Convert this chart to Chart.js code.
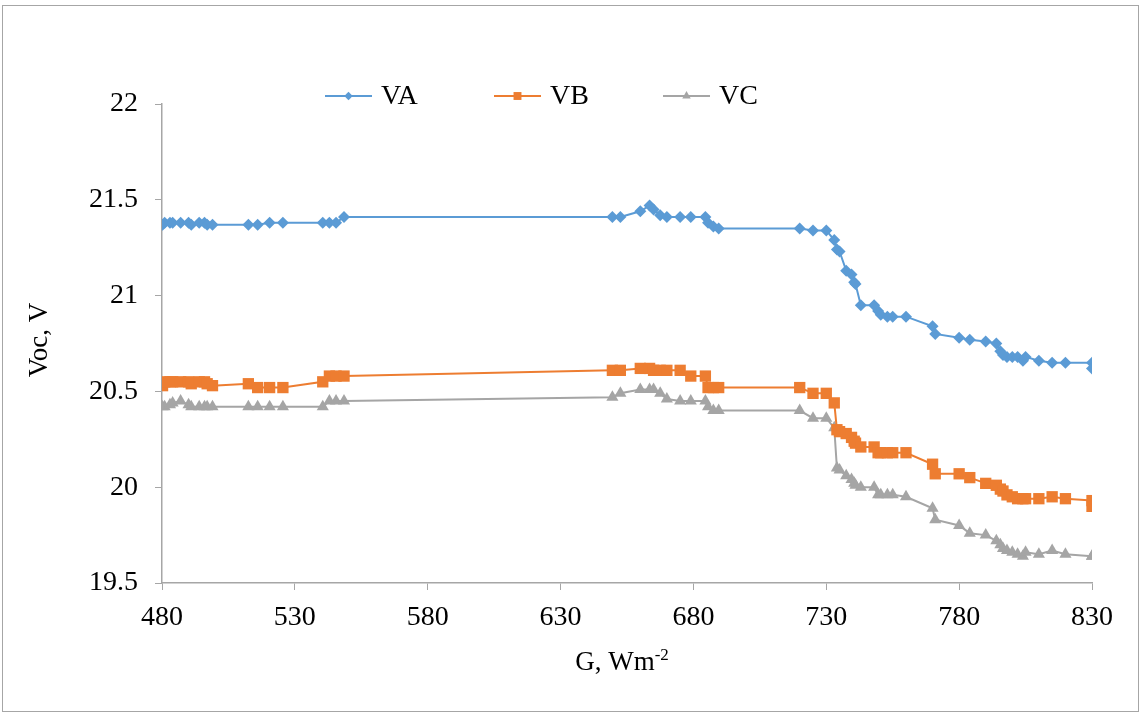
<!DOCTYPE html>
<html>
<head>
<meta charset="utf-8">
<title>Voc vs G</title>
<script src="https://cdn.jsdelivr.net/npm/chart.js@4.4.1/dist/chart.umd.min.js"></script>
<style>
  html, body { margin: 0; padding: 0; background: #ffffff; }
  #frame {
    position: absolute; left: 2px; top: 5px;
    width: 1135px; height: 705px;
    border: 1px solid #a6a6a6; background: #ffffff;
  }
  canvas { display: block; }
</style>
</head>
<body>
<div id="frame"><canvas id="c" width="1135" height="705"></canvas></div>
<script>
// Irradiance G (W/m^2) for each measurement
const G = [
  480.2, 481, 483, 484, 487, 490, 491, 494, 496, 497, 499,
  512.5, 516, 520.5, 525.5,
  540.5, 543, 545.5, 548.5,
  649.5, 652.5, 660, 663.5, 665, 667.5, 670, 675, 679, 684.5, 685.5, 687.5, 689.5,
  720, 725, 730, 733, 734, 735, 737.5, 739.5, 740.5, 741, 743, 748, 749.5, 750.5, 753, 755, 760,
  770, 771, 780, 784, 790, 794, 795.5, 796.5, 798, 800, 802, 804, 805, 810, 815, 820, 830, 830
];

// Open-circuit voltage of each module (V)
const VA = [
  21.37, 21.38, 21.38, 21.38, 21.38, 21.38, 21.37, 21.38, 21.38, 21.37, 21.37,
  21.37, 21.37, 21.38, 21.38,
  21.38, 21.38, 21.38, 21.41,
  21.41, 21.41, 21.44, 21.47, 21.45, 21.42, 21.41, 21.41, 21.41, 21.41, 21.38, 21.36, 21.35,
  21.35, 21.34, 21.34, 21.29, 21.24, 21.23, 21.13, 21.11, 21.07, 21.06, 20.95, 20.95, 20.92, 20.90, 20.89, 20.89, 20.89,
  20.84, 20.80, 20.78, 20.77, 20.76, 20.75, 20.71, 20.69, 20.68, 20.68, 20.68, 20.66, 20.68, 20.66, 20.65, 20.65, 20.65, 20.62
];
const VB = [
  20.53, 20.55, 20.55, 20.55, 20.55, 20.55, 20.54, 20.55, 20.55, 20.54, 20.53,
  20.54, 20.52, 20.52, 20.52,
  20.55, 20.58, 20.58, 20.58,
  20.61, 20.61, 20.62, 20.62, 20.61, 20.61, 20.61, 20.61, 20.58, 20.58, 20.52, 20.52, 20.52,
  20.52, 20.49, 20.49, 20.44, 20.30, 20.29, 20.28, 20.26, 20.24, 20.23, 20.21, 20.21, 20.18, 20.18, 20.18, 20.18, 20.18,
  20.12, 20.07, 20.07, 20.05, 20.02, 20.01, 19.99, 19.98, 19.96, 19.95, 19.94, 19.94, 19.94, 19.94, 19.95, 19.94, 19.93, 19.90
];
const VC = [
  20.42, 20.42, 20.43, 20.44, 20.45, 20.43, 20.42, 20.42, 20.42, 20.42, 20.42,
  20.42, 20.42, 20.42, 20.42,
  20.42, 20.45, 20.45, 20.45,
  20.47, 20.49, 20.51, 20.51, 20.51, 20.49, 20.46, 20.45, 20.45, 20.45, 20.42, 20.40, 20.40,
  20.40, 20.36, 20.36, 20.31, 20.10, 20.09, 20.06, 20.04, 20.02, 20.01, 20.00, 20.00, 19.96, 19.96, 19.96, 19.96, 19.95,
  19.89, 19.83, 19.80, 19.76, 19.75, 19.72, 19.70, 19.68, 19.67, 19.66, 19.65, 19.64, 19.66, 19.65, 19.67, 19.65, 19.64, 19.64
];

// Axis tick values
const xTicks = [480, 530, 580, 630, 680, 730, 780, 830];
const yTicks = [19.5, 20, 20.5, 21, 21.5, 22];

const seriesNames = ['VA', 'VB', 'VC'];
const seriesColors = ['#5B9BD5', '#ED7D31', '#A5A5A5'];
const seriesMarkers = ['rectRot', 'rect', 'triangle'];
const markerRadius = [6, 8, 7];

const FONT = '"Liberation Serif", "Times New Roman", serif';
const AXIS_GREY = '#a6a6a6';

function toPoints(ys) {
  return G.map((g, i) => ({ x: g, y: ys[i] }));
}

const datasets = [VA, VB, VC].map((ys, k) => ({
  label: seriesNames[k],
  data: toPoints(ys),
  showLine: true,
  borderColor: seriesColors[k],
  backgroundColor: seriesColors[k],
  borderWidth: 2,
  pointStyle: seriesMarkers[k],
  pointRadius: markerRadius[k],
  pointBorderWidth: 0,
  pointBackgroundColor: seriesColors[k],
  pointBorderColor: seriesColors[k],
  tension: 0
}));

// Legend: short line with a marker in its middle, followed by the name
const legendPlugin = {
  id: 'lineMarkerLegend',
  afterDraw(chart) {
    const ctx = chart.ctx;
    const items = [
      { x0: 322, name: seriesNames[0] },
      { x0: 491, name: seriesNames[1] },
      { x0: 660, name: seriesNames[2] }
    ];
    const y = 90;
    ctx.save();
    items.forEach((it, k) => {
      ctx.strokeStyle = seriesColors[k];
      ctx.lineWidth = 2;
      ctx.beginPath();
      ctx.moveTo(it.x0, y);
      ctx.lineTo(it.x0 + 47, y);
      ctx.stroke();
      ctx.fillStyle = seriesColors[k];
      Chart.helpers.drawPoint(ctx, {
        pointStyle: seriesMarkers[k],
        radius: markerRadius[k] * 0.7,
        rotation: 0,
        borderWidth: 0
      }, it.x0 + 23.5, y);
      ctx.fillStyle = '#000000';
      ctx.font = '28px ' + FONT;
      ctx.textAlign = 'left';
      ctx.textBaseline = 'middle';
      ctx.fillText(it.name, it.x0 + 56, y + 1);
    });
    ctx.restore();
  }
};

// Axis titles, with a superscript on the irradiance unit
const titlePlugin = {
  id: 'axisTitles',
  afterDraw(chart) {
    const ctx = chart.ctx;
    ctx.save();
    ctx.fillStyle = '#000000';
    ctx.textBaseline = 'alphabetic';
    // x title
    const main = 'G, Wm';
    const sup = '-2';
    ctx.font = '27px ' + FONT;
    const wMain = ctx.measureText(main).width;
    ctx.font = '17px ' + FONT;
    const wSup = ctx.measureText(sup).width;
    const cx = 619, base = 664;
    const startX = cx - (wMain + wSup) / 2;
    ctx.font = '27px ' + FONT;
    ctx.textAlign = 'left';
    ctx.fillText(main, startX, base);
    ctx.font = '17px ' + FONT;
    ctx.fillText(sup, startX + wMain, base - 10);
    // y title
    ctx.translate(37, 334);
    ctx.rotate(-Math.PI / 2);
    ctx.font = '27px ' + FONT;
    ctx.textAlign = 'center';
    ctx.textBaseline = 'middle';
    ctx.fillText('Voc, V', 0, 0);
    ctx.restore();
  }
};

new Chart(document.getElementById('c'), {
  type: 'scatter',
  data: { datasets },
  options: {
    responsive: false,
    animation: false,
    events: [],
    layout: { padding: { left: 0, right: 46, top: 98, bottom: 0 } },
    plugins: {
      legend: { display: false },
      tooltip: { enabled: false }
    },
    scales: {
      x: {
        type: 'linear',
        min: xTicks[0],
        max: xTicks[xTicks.length - 1],
        afterBuildTicks(axis) { axis.ticks = xTicks.map(v => ({ value: v })); },
        afterFit(axis) { axis.height = 128; },
        grid: {
          drawOnChartArea: false,
          drawTicks: true,
          tickLength: 7,
          color: AXIS_GREY,
          lineWidth: 1
        },
        border: { display: true, color: AXIS_GREY, width: 1.5 },
        ticks: {
          color: '#000000',
          font: { family: FONT, size: 28 },
          padding: 11,
          maxRotation: 0,
          autoSkip: false,
          callback: (v) => String(v)
        }
      },
      y: {
        type: 'linear',
        min: yTicks[0],
        max: yTicks[yTicks.length - 1],
        afterBuildTicks(axis) { axis.ticks = yTicks.map(v => ({ value: v })); },
        afterFit(axis) { axis.width = 159; },
        grid: {
          drawOnChartArea: false,
          drawTicks: true,
          tickLength: 7,
          color: AXIS_GREY,
          lineWidth: 1
        },
        border: { display: true, color: AXIS_GREY, width: 1.5 },
        ticks: {
          color: '#000000',
          font: { family: FONT, size: 28 },
          padding: 17,
          autoSkip: false,
          callback: (v) => String(v)
        }
      }
    }
  },
  plugins: [legendPlugin, titlePlugin]
});
</script>
</body>
</html>
